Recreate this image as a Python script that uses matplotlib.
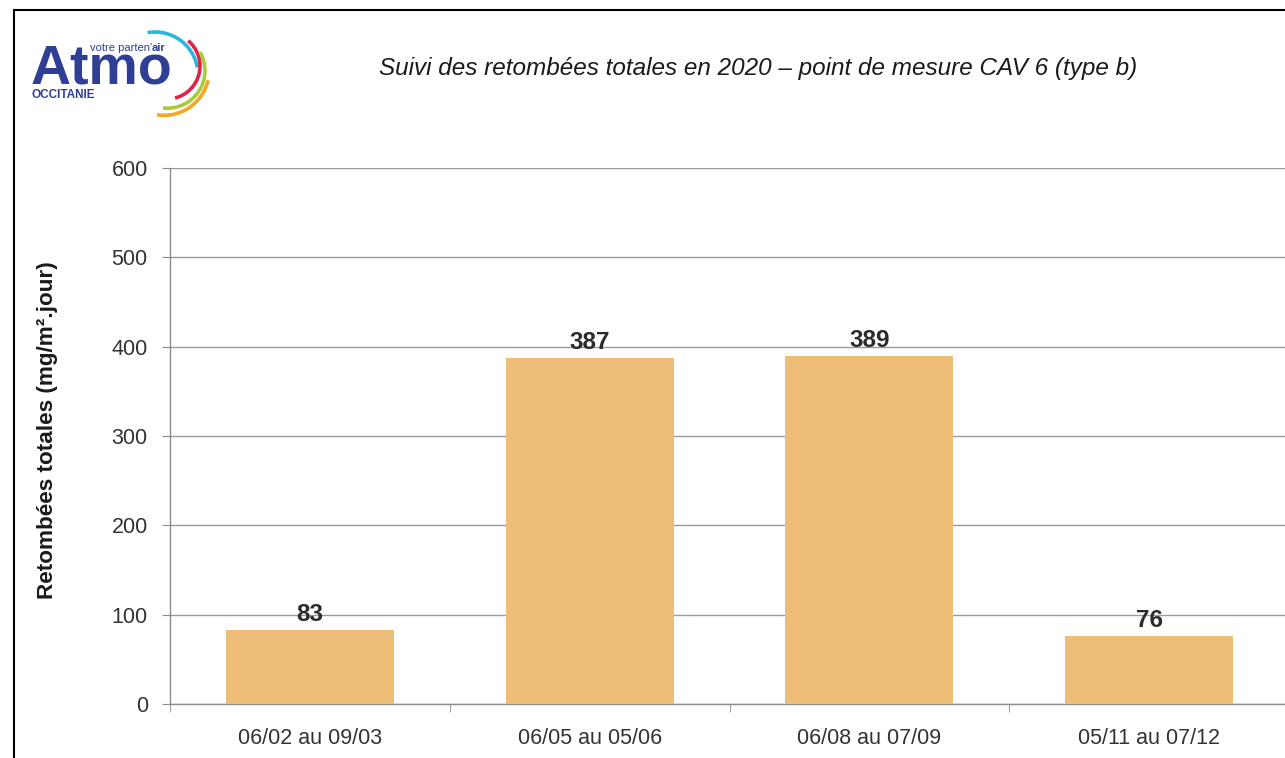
import matplotlib
matplotlib.use("Agg")
import matplotlib.pyplot as plt
from matplotlib import font_manager
from matplotlib.patches import Arc
from matplotlib.lines import Line2D
import numpy as np

# ---------------- data ----------------
categories = ["06/02 au 09/03", "06/05 au 05/06", "06/08 au 07/09", "05/11 au 07/12"]
values = [83, 387, 389, 76]
yticks = [0, 100, 200, 300, 400, 500, 600]
title = "Suivi des retombées totales en 2020 – point de mesure CAV 6 (type b)"
ylabel = "Retombées totales (mg/m².jour)"

# ---------------- fonts ----------------
names = {f.name for f in font_manager.fontManager.ttflist}
if "Liberation Sans Narrow" in names:
    FAM = ["Liberation Sans Narrow", "DejaVu Sans"]
    k = 1.0
else:
    FAM = ["Liberation Sans", "DejaVu Sans"]
    k = 0.83
plt.rcParams["font.family"] = FAM

W, H = 1285, 758
fig = plt.figure(figsize=(W / 100, H / 100), dpi=100)
fig.patch.set_facecolor("white")

def fx(px):
    return px / W

def fy(py):
    return 1 - py / H

# ---------------- main axes ----------------
x0, x1, y0, y1 = 170, 1289, 704, 168
ax = fig.add_axes([fx(x0), fy(y0), (x1 - x0) / W, (y0 - y1) / H])
ax.set_facecolor("white")
pos = np.arange(len(categories))
bar_color = "#EEBE79"
ax.bar(pos, values, width=0.6, color=bar_color, zorder=3)
ax.set_xlim(-0.5, len(categories) - 0.5)
ax.set_ylim(0, 600)
ax.set_yticks(yticks)
ax.set_yticklabels([str(t) for t in yticks])
ax.grid(axis="y", color="#9a9a9a", linewidth=1.0, zorder=0)
for s in ["top", "right"]:
    ax.spines[s].set_visible(False)
ax.spines["left"].set_color("#8c8c8c")
ax.spines["bottom"].set_color("#8c8c8c")
ax.spines["left"].set_linewidth(1.0)
ax.spines["bottom"].set_linewidth(1.0)

ax.set_xticks(pos)
ax.set_xticklabels(categories)
ax.set_xticks(np.arange(-0.5, len(categories)), minor=True)
ax.tick_params(axis="x", which="major", length=0, pad=17, labelsize=18.7 * k, labelcolor="#333333")
ax.tick_params(axis="x", which="minor", length=6, color="#8c8c8c", direction="out")
ax.tick_params(axis="y", which="major", length=6, color="#8c8c8c", direction="out",
               pad=10, labelsize=18.7 * k, labelcolor="#333333")

for p, v in zip(pos, values):
    ax.annotate(str(v), (p, v), xytext=(0, 3), textcoords="offset points",
                ha="center", va="bottom", fontsize=21 * k, fontweight="bold",
                color="#2b2b2b", zorder=4)

# y label
fig.text(fx(48), fy(430), ylabel, rotation=90, ha="center", va="center",
         fontsize=19.5 * k, fontweight="bold", color="#1a1a1a")

# title
fig.text(fx(758), fy(68), title, ha="center", va="center",
         fontsize=21 * k, style="italic", color="#1a1a1a")

# ---------------- frame border ----------------
fig.add_artist(Line2D([fx(14), fx(14)], [fy(10), 0], color="black", lw=1.5))
fig.add_artist(Line2D([fx(14), 1], [fy(10), fy(10)], color="black", lw=1.5))

# ---------------- logo ----------------
lx0, ly0, lw, lh = 20, 20, 200, 105
lax = fig.add_axes([fx(lx0), fy(ly0 + lh), lw / W, lh / H])
lax.set_xlim(lx0, lx0 + lw)
lax.set_ylim(ly0 + lh, ly0)
lax.axis("off")
navy = "#2f3f94"
LF = ["Liberation Sans", "DejaVu Sans"]
lax.text(31, 84, "Atmo", fontsize=40, fontweight="bold", color=navy,
         family=LF, ha="left", va="baseline")
t1 = lax.text(90, 51, "votre parten'", fontsize=8, color=navy,
              family=LF, ha="left", va="baseline")
fig.canvas.draw()
bb = t1.get_window_extent().transformed(lax.transData.inverted())
lax.text(max(bb.x0, bb.x1), 51, "air", fontsize=8, color=navy, fontweight="bold",
         family=LF, ha="left", va="baseline")
lax.text(32, 98, "OCCITANIE", fontsize=8.5, color=navy, fontweight="bold",
         family=LF, ha="left", va="baseline")
# arcs: (center), radius, start angle, end angle (screen, y up), colour
arcs = [
    ((155, 75), 43, 10, 100, "#2bb5df"),
    ((167, 66), 33, -76, 50, "#e0234b"),
    ((167.5, 70.7), 37.5, -97, 30, "#a9cc3b"),
    ((164, 70), 45.3, -99, -13, "#f4a627"),
]
for (cx, cy), r, a1, a2, c in arcs:
    lax.add_patch(Arc((cx, cy), 2 * r, 2 * r, theta1=-a2, theta2=-a1, color=c, lw=2.6))

fig.savefig("out.png", dpi=100, facecolor="white")
